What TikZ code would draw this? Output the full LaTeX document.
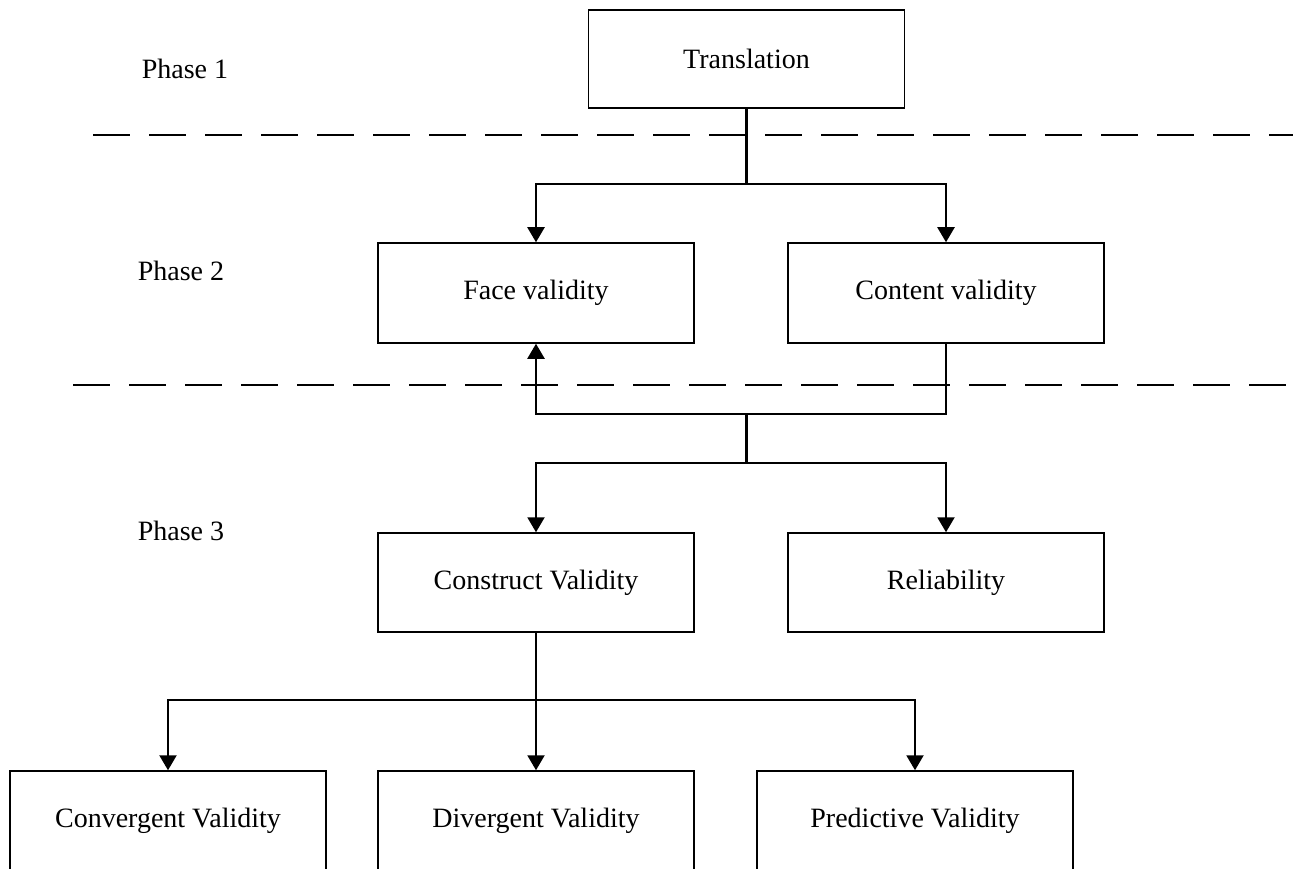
\documentclass[tikz,border=0pt]{standalone}
\usepackage{fontspec}
\setmainfont{Liberation Serif}
\usetikzlibrary{arrows.meta}
\begin{document}
\begin{tikzpicture}[x=1pt,y=-1pt,
  box/.style={draw=black, line width=1.5pt, minimum width=316pt, inner sep=0pt,
    font=\fontsize{28}{33}\selectfont, fill=white},
  phaselbl/.style={inner sep=0pt, font=\fontsize{28}{33}\selectfont},
  conn/.style={draw=black, line width=2.2pt},
  arr/.style={conn, -{Triangle[length=15pt,width=17pt]}},
  divider/.style={draw=black, line width=2.5pt, dash pattern=on 37pt off 19pt}]
\useasboundingbox (0,0) rectangle (1293,869);
\clip (0,0) rectangle (1293,869);
\fill[white] (0,0) rectangle (1293,869);

% phase labels
\node[phaselbl] (p1) at (185,69) {Phase 1};
\node[phaselbl] (p2) at (181,271) {Phase 2};
\node[phaselbl] (p3) at (181,531) {Phase 3};

% dividers
\coordinate (d1a) at (93,135);
\coordinate (d1b) at (1293,135);
\coordinate (d2a) at (73,385);
\coordinate (d2b) at (1293,385);
\draw[divider] (d1a) -- (d1b);
\draw[divider] (d2a) -- (d2b);

% boxes
\node[box, minimum height=98pt] (trans) at (746.5,59) {Translation};
\node[box, minimum height=100pt] (face) at (536,293) {Face validity};
\node[box, minimum height=100pt] (content) at (946,293) {Content validity};
\node[box, minimum height=99pt] (construct) at (536,582.5) {Construct Validity};
\node[box, minimum height=99pt] (reliab) at (946,582.5) {Reliability};
\node[box, minimum height=100pt] (conv) at (168,821) {Convergent Validity};
\node[box, minimum height=100pt] (div) at (536,821) {Divergent Validity};
\node[box, minimum height=100pt] (pred) at (915,821) {Predictive Validity};

% junctions
\coordinate (j1) at (746.5,184);
\coordinate (k) at (536,414);
\coordinate (j2) at (746.5,414);
\coordinate (j3) at (746.5,463);
\coordinate (j4) at (536,700);

% connectors
\draw[conn] (trans.south) -- (j1);
\draw[arr] (j1) -| (face.north);
\draw[arr] (j1) -| (content.north);
\draw[arr] (content.south) |- (k) -- (face.south);
\draw[conn] (j2) -- (j3);
\draw[arr] (j3) -| (construct.north);
\draw[arr] (j3) -| (reliab.north);
\draw[conn] (construct.south) -- (j4);
\draw[arr] (j4) -| (conv.north);
\draw[arr] (j4) -- (div.north);
\draw[arr] (j4) -| (pred.north);
\end{tikzpicture}
\end{document}
